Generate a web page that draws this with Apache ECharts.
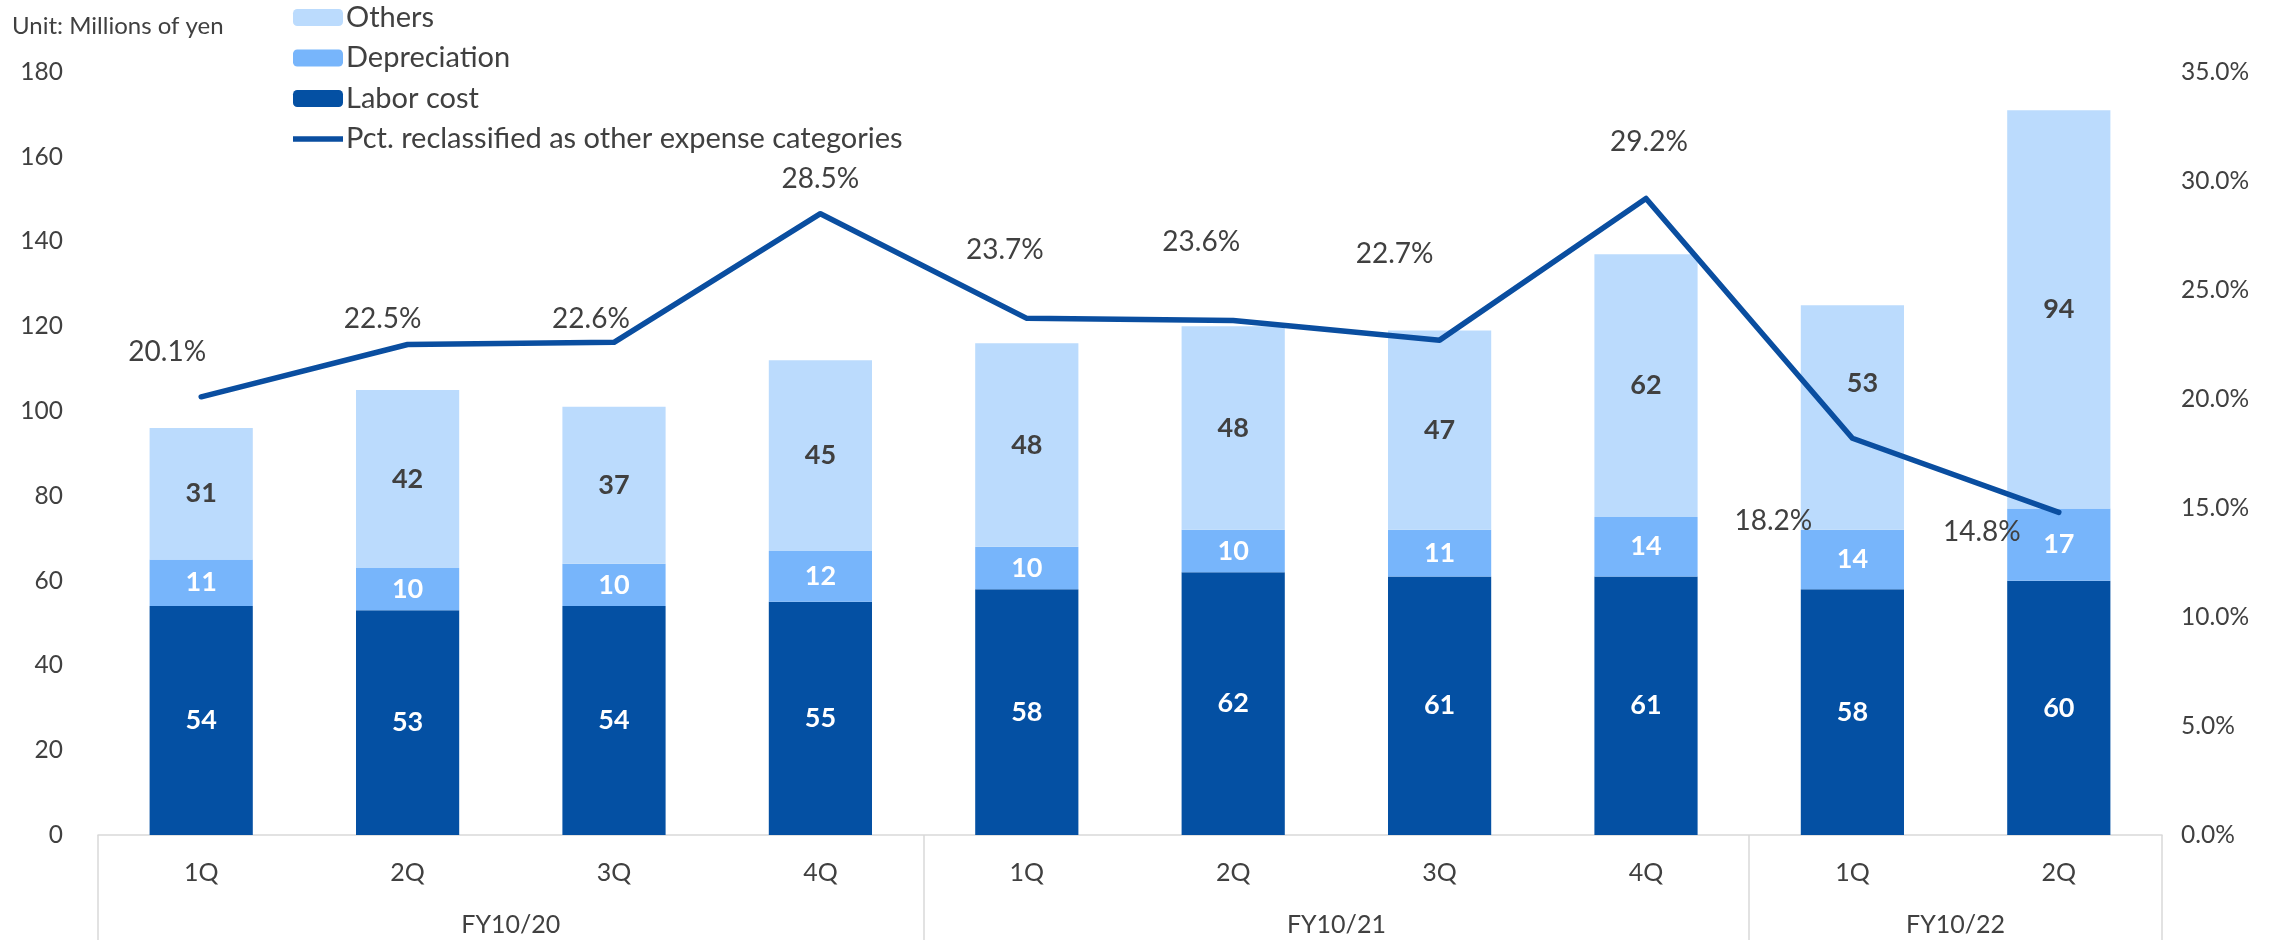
<!DOCTYPE html>
<html>
<head>
<meta charset="utf-8">
<script src="https://cdn.jsdelivr.net/npm/echarts@6/dist/echarts.min.js"></script>
<style>
html,body{margin:0;padding:0;background:#fff;}
#chart{width:2292px;height:940px;}
</style>
</head>
<body>
<div id="chart"></div>
<script>
const quarters = ['1Q','2Q','3Q','4Q','1Q','2Q','3Q','4Q','1Q','2Q'];
const fiscalYearLabels = ['', '', 'FY10/20', '', '', '', 'FY10/21', '', '', 'FY10/22', ''];
const laborCost = [54, 53, 54, 55, 58, 62, 61, 61, 58, 60];
const depreciation = [11, 10, 10, 12, 10, 10, 11, 14, 14, 17];
const others = [31, 42, 37, 45, 48, 48, 47, 62, 53, 94];
const pctReclassified = [20.1, 22.5, 22.6, 28.5, 23.7, 23.6, 22.7, 29.2, 18.2, 14.8];
const leftTicks = {min: 0, max: 180, interval: 20};
const rightTicks = {min: 0, max: 35, interval: 5};

// label placement (styling only)
const pctLabelOffsets = [[-34,-45],[-25,-25],[-23,-23],[0,-35],[-22,-68],[-32,-79],[-45,-86],[3,-56],[-79,83],[-77,20]];
const othersLabelOffsets = [[0,0],[0,0],[0,0],[0,0],[0,0],[0,0],[0,0],[0,0],[10,-34],[0,0]];

const FONT = 'Lato';
const C_LABOR = '#0450A3';
const C_DEP = '#77B5FB';
const C_OTH = '#BBDBFD';
const C_LINE = '#0A4EA0';
const TXT = '#404040';

const chart = echarts.init(document.getElementById('chart'));

function barLabel(color) {
  return {show: true, position: 'inside', color: color, fontFamily: FONT, fontWeight: 'bold', fontSize: 27};
}

const lineData = pctReclassified.map((v, i) => ({
  value: v,
  label: {offset: pctLabelOffsets[i]}
}));
const othersData = others.map((v, i) => ({
  value: v,
  label: {offset: othersLabelOffsets[i]}
}));

chart.setOption({
  animation: false,
  textStyle: {fontFamily: FONT},
  graphic: [{
    type: 'text', left: 12, top: 14,
    style: {text: 'Unit: Millions of yen', fontFamily: FONT, fontSize: 24, fill: TXT}
  }],
  legend: {
    orient: 'vertical', left: 288, top: -2,
    itemWidth: 50, itemHeight: 17, itemGap: 11.5,
    textStyle: {fontFamily: FONT, fontSize: 29, lineHeight: 29, color: TXT, padding: [0,0,0,-2]},
    data: [
      {name: 'Others'},
      {name: 'Depreciation'},
      {name: 'Labor cost'},
      {name: 'Pct. reclassified as other expense categories', icon: 'path://M0,0 L100,0 L100,11 L0,11 Z'}
    ]
  },
  grid: {left: 98, right: 130, top: 72, bottom: 105, containLabel: false},
  xAxis: [{
    type: 'category', data: quarters, position: 'bottom',
    axisLine: {show: true, lineStyle: {color: '#D9D9D9', width: 1.5}},
    axisTick: {show: true, length: 110, lineStyle: {color: '#D9D9D9', width: 1.5},
      interval: function (idx) { return idx === 0 || idx === 4 || idx === 8; }},
    axisLabel: {color: TXT, fontFamily: FONT, fontSize: 25, margin: 25, interval: 0}
  }, {
    type: 'category', data: fiscalYearLabels, position: 'bottom', offset: 52,
    boundaryGap: false,
    axisLine: {show: false}, axisTick: {show: false},
    axisLabel: {color: TXT, fontFamily: FONT, fontSize: 25, margin: 25, interval: 0}
  }],
  yAxis: [{
    type: 'value', min: leftTicks.min, max: leftTicks.max, interval: leftTicks.interval,
    splitLine: {show: false}, axisLine: {show: false}, axisTick: {show: false},
    axisLabel: {color: TXT, fontFamily: FONT, fontSize: 24.5, margin: 35}
  }, {
    type: 'value', min: rightTicks.min, max: rightTicks.max, interval: rightTicks.interval,
    splitLine: {show: false}, axisLine: {show: false}, axisTick: {show: false},
    axisLabel: {color: TXT, fontFamily: FONT, fontSize: 24.5, margin: 19,
      formatter: v => v.toFixed(1) + '%'}
  }],
  series: [{
    name: 'Labor cost', type: 'bar', stack: 'cost', data: laborCost, barWidth: '50%',
    itemStyle: {color: C_LABOR}, label: barLabel('#FFFFFF')
  }, {
    name: 'Depreciation', type: 'bar', stack: 'cost', data: depreciation,
    itemStyle: {color: C_DEP}, label: barLabel('#FFFFFF')
  }, {
    name: 'Others', type: 'bar', stack: 'cost', data: othersData,
    itemStyle: {color: C_OTH}, label: barLabel(TXT)
  }, {
    name: 'Pct. reclassified as other expense categories', type: 'line', yAxisIndex: 1,
    data: lineData, symbol: 'circle', symbolSize: 0.1, showSymbol: true,
    itemStyle: {color: C_LINE},
    lineStyle: {color: C_LINE, width: 5.5, cap: 'round', join: 'round'},
    label: {show: true, position: 'top', distance: 0, verticalAlign: 'middle', align: 'center',
      color: TXT, fontFamily: FONT, fontSize: 28, formatter: p => p.value.toFixed(1) + '%'},
    z: 5
  }]
});
</script>
</body>
</html>
